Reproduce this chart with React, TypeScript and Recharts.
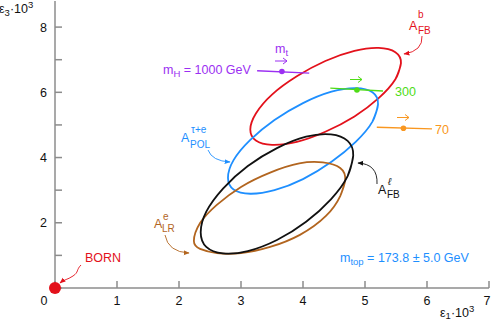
import React from "react";
import { LineChart, Line, XAxis, YAxis, ReferenceDot } from "recharts";

// contour points (ε1·10³, ε3·10³), taken round each curve
const afbB: [number, number][] = [
  [5.58, 6.89], [5.49, 6.4], [5.22, 5.82], [4.83, 5.26], [4.36, 4.79], [3.9, 4.48],
  [3.5, 4.39], [3.24, 4.52], [3.15, 4.86], [3.24, 5.35], [3.5, 5.93], [3.9, 6.49],
  [4.36, 6.96], [4.83, 7.27], [5.22, 7.36], [5.49, 7.23],
];
const aPol: [number, number][] = [
  [5.21, 5.63], [5.12, 5.1], [4.85, 4.48], [4.46, 3.87], [4.0, 3.34], [3.54, 3.0],
  [3.15, 2.89], [2.88, 3.02], [2.79, 3.38], [2.88, 3.92], [3.15, 4.54], [3.54, 5.15],
  [4.0, 5.67], [4.46, 6.02], [4.85, 6.13], [5.12, 6.0],
];
const afbL: [number, number][] = [
  [4.81, 4.06], [4.72, 3.43], [4.45, 2.72], [4.05, 2.03], [3.58, 1.47], [3.11, 1.13],
  [2.71, 1.06], [2.44, 1.26], [2.35, 1.71], [2.44, 2.34], [2.71, 3.05], [3.11, 3.74],
  [3.58, 4.29], [4.05, 4.64], [4.45, 4.71], [4.72, 4.51],
];
const aLR: [number, number][] = [
  [4.68, 3.31], [4.6, 2.82], [4.37, 2.21], [3.95, 1.63], [3.47, 1.26], [3.0, 1.07],
  [2.61, 1.07], [2.34, 1.2], [2.24, 1.44], [2.34, 1.99], [2.61, 2.55], [3.0, 3.1],
  [3.47, 3.54], [3.94, 3.82], [4.32, 3.85], [4.6, 3.68],
];

// m_t shift segments and their central points
const mhLine: [number, number][] = [[3.26, 6.66], [4.1, 6.59]];
const mhDot: [number, number] = [3.66, 6.64];
const m300Line: [number, number][] = [[4.44, 6.13], [5.29, 6.04]];
const m300Dot: [number, number] = [4.87, 6.07];
const m70Line: [number, number][] = [[5.19, 4.93], [6.08, 4.88]];
const m70Dot: [number, number] = [5.62, 4.9];
const born: [number, number] = [0, 0];

const X_TICKS = [0, 1, 2, 3, 4, 5, 6, 7];
const Y_TICKS = [0, 1, 2, 3, 4, 5, 6, 7, 8];

const RED = "#e3111b";
const BLUE = "#1e8fff";
const BROWN = "#b2651f";
const PURPLE = "#9b2ff2";
const GREEN = "#4fdc16";
const ORANGE = "#f99720";
const AXIS = "#8c8c8c";
const FONT = "'Liberation Sans', Arial, sans-serif";

const toPts = (a: [number, number][]) => a.map(([x, y]) => ({ x, y }));
// repeat the first two points so the spline closes smoothly
const loop = (a: [number, number][]) => toPts([...a, a[0], a[1]]);

const XTick = (props: any) => {
  const { x, y, payload } = props;
  return (
    <text
      x={payload.value === 0 ? x - 11 : x}
      y={y}
      dy="0.71em"
      textAnchor="middle"
      fontSize={12.5}
      fontFamily={FONT}
      fill="#111"
    >
      {payload.value}
    </text>
  );
};

const Arrow = ({ d, color, id }: { d: string; color: string; id: string }) => (
  <path d={d} fill="none" stroke={color} strokeWidth={0.9} markerEnd={`url(#${id})`} />
);

const Vec = ({ x, y, color }: { x: number; y: number; color: string }) => (
  <path
    d={`M${x},${y} h12 M${x + 8},${y - 3} L${x + 12},${y} L${x + 8},${y + 3}`}
    fill="none"
    stroke={color}
    strokeWidth={1}
  />
);

export default function App() {
  const ser = (data: [number, number][], color: string) => (
    <Line
      data={loop(data)}
      dataKey="y"
      xAxisId="b"
      yAxisId="l"
      type="natural"
      stroke={color}
      strokeWidth={1.8}
      dot={false}
      isAnimationActive={false}
    />
  );
  const seg = (data: [number, number][], color: string) => (
    <Line
      data={toPts(data)}
      dataKey="y"
      xAxisId="b"
      yAxisId="l"
      type="linear"
      stroke={color}
      strokeWidth={1.4}
      dot={false}
      isAnimationActive={false}
    />
  );
  const markers = [
    ["ar-red", RED],
    ["ar-blue", BLUE],
    ["ar-brown", BROWN],
    ["ar-black", "#111"],
  ];
  return (
    <div style={{ position: "absolute", left: 0, top: 0, width: 491, height: 322 }}>
      <LineChart width={491} height={322} margin={{ top: 1, right: 2, bottom: 4, left: 0 }}>
        <XAxis
          xAxisId="b"
          type="number"
          dataKey="x"
          domain={[0, 7]}
          ticks={X_TICKS}
          height={30}
          axisLine={{ stroke: AXIS, strokeWidth: 1.5 }}
          tickLine={{ stroke: AXIS, strokeWidth: 1.5 }}
          tickSize={-7}
          tickMargin={15}
          tick={<XTick />}
          allowDataOverflow
        />
        <XAxis
          xAxisId="t"
          orientation="top"
          type="number"
          dataKey="x"
          domain={[0, 7]}
          ticks={X_TICKS}
          height={0}
          axisLine={{ stroke: AXIS, strokeWidth: 1.5 }}
          tickLine={{ stroke: AXIS, strokeWidth: 1.5 }}
          tickSize={-7}
          tick={false}
          allowDataOverflow
        />
        <YAxis
          yAxisId="l"
          type="number"
          domain={[0, 8.8]}
          ticks={Y_TICKS}
          width={55}
          axisLine={{ stroke: AXIS, strokeWidth: 1.5 }}
          tickLine={{ stroke: AXIS, strokeWidth: 1.5 }}
          tickSize={-7}
          tickMargin={15}
          tick={{ fontSize: 12.5, fontFamily: FONT, fill: "#111" }}
          tickFormatter={(v: number) => (v > 0 && v % 2 === 0 ? String(v) : "")}
          allowDataOverflow
        />
        <YAxis
          yAxisId="r"
          orientation="right"
          type="number"
          domain={[0, 8.8]}
          ticks={Y_TICKS}
          width={0}
          axisLine={{ stroke: AXIS, strokeWidth: 1.5 }}
          tickLine={{ stroke: AXIS, strokeWidth: 1.5 }}
          tickSize={-7}
          tick={false}
          allowDataOverflow
        />
        {ser(afbB, RED)}
        {ser(aPol, BLUE)}
        {ser(aLR, BROWN)}
        {ser(afbL, "#111")}
        {seg(mhLine, PURPLE)}
        {seg(m300Line, GREEN)}
        {seg(m70Line, ORANGE)}
        <ReferenceDot xAxisId="b" yAxisId="l" x={mhDot[0]} y={mhDot[1]} r={2.8} fill={PURPLE} stroke="none" />
        <ReferenceDot xAxisId="b" yAxisId="l" x={m300Dot[0]} y={m300Dot[1]} r={2.8} fill={GREEN} stroke="none" />
        <ReferenceDot xAxisId="b" yAxisId="l" x={m70Dot[0]} y={m70Dot[1]} r={2.8} fill={ORANGE} stroke="none" />
        <ReferenceDot
          xAxisId="b"
          yAxisId="l"
          x={born[0]}
          y={born[1]}
          r={6}
          fill={RED}
          stroke="none"
          ifOverflow="visible"
        />
      </LineChart>
      <svg
        width={491}
        height={322}
        style={{ position: "absolute", left: 0, top: 0, pointerEvents: "none" }}
        fontFamily={FONT}
      >
        <defs>
          {markers.map(([id, c]) => (
            <marker
              key={id}
              id={id}
              viewBox="0 0 10 10"
              refX={9}
              refY={5}
              markerWidth={6}
              markerHeight={6}
              markerUnits="userSpaceOnUse"
              orient="auto"
            >
              <path d="M0,1 L10,5 L0,9 z" fill={c} />
            </marker>
          ))}
        </defs>

        {/* axis titles */}
        <text x={-1} y={13} fontSize={12.5} fill="#111">
          ε<tspan fontSize={9.5} dy={3}>3</tspan>
          <tspan dy={-3}>·10</tspan>
          <tspan fontSize={9.5} dy={-5}>3</tspan>
        </text>
        <text x={440} y={317} fontSize={12.5} fill="#111">
          ε<tspan fontSize={9.5} dy={2}>1</tspan>
          <tspan dy={-2}>·10</tspan>
          <tspan fontSize={9.5} dy={-5}>3</tspan>
        </text>

        {/* BORN */}
        <text x={85} y={262} fontSize={12.5} fill={RED}>BORN</text>
        <Arrow d="M81,265 C76,270 79,272 73,276 C67,280 65,279 60,283" color={RED} id="ar-red" />

        {/* A_LR^e */}
        <text x={154} y={228} fontSize={12.5} fill={BROWN}>A</text>
        <text x={163} y={220} fontSize={10} fill={BROWN}>e</text>
        <text x={162} y={232} fontSize={10} fill={BROWN}>LR</text>
        <Arrow d="M165,235 Q168,252 189,253" color={BROWN} id="ar-brown" />

        {/* A_POL^tau+e */}
        <text x={181} y={142} fontSize={12.5} fill={BLUE}>A</text>
        <text x={191} y={133} fontSize={10} fill={BLUE}>τ+e</text>
        <text x={190} y={148} fontSize={10} fill={BLUE}>POL</text>
        <Arrow d="M208,150 Q212,161 230,162" color={BLUE} id="ar-blue" />

        {/* A_FB^b */}
        <text x={409} y={30} fontSize={12.5} fill={RED}>A</text>
        <text x={418} y={18} fontSize={10} fill={RED}>b</text>
        <text x={418} y={34} fontSize={10} fill={RED}>FB</text>
        <Arrow d="M422,36 Q423,51 404,54" color={RED} id="ar-red" />

        {/* A_FB^l */}
        <text x={378} y={194} fontSize={12.5} fill="#111">A</text>
        <text x={388} y={185} fontSize={10} fill="#111" fontStyle="italic">ℓ</text>
        <text x={387} y={198} fontSize={10} fill="#111">FB</text>
        <Arrow d="M377,184 Q378,164 358,163" color="#111" id="ar-black" />

        {/* m_H and m_t labels */}
        <text x={163} y={74} fontSize={12.5} fill={PURPLE}>
          m<tspan fontSize={9.5} dy={3}>H</tspan>
          <tspan dy={-3}> = 1000 GeV</tspan>
        </text>
        <text x={275} y={53} fontSize={12.5} fill={PURPLE}>
          m<tspan fontSize={9.5} dy={3}>t</tspan>
        </text>
        <Vec x={275} y={61} color={PURPLE} />
        <Vec x={350} y={79.5} color={GREEN} />
        <text x={395} y={95.5} fontSize={12.5} fill={GREEN}>300</text>
        <Vec x={397} y={117.5} color={ORANGE} />
        <text x={435} y={134} fontSize={12.5} fill={ORANGE}>70</text>

        {/* m_top */}
        <text x={340} y={262} fontSize={12.5} fill={BLUE}>
          m<tspan fontSize={9.5} dy={3}>top</tspan>
          <tspan dy={-3}> = 173.8 ± 5.0 GeV</tspan>
        </text>
      </svg>
    </div>
  );
}
